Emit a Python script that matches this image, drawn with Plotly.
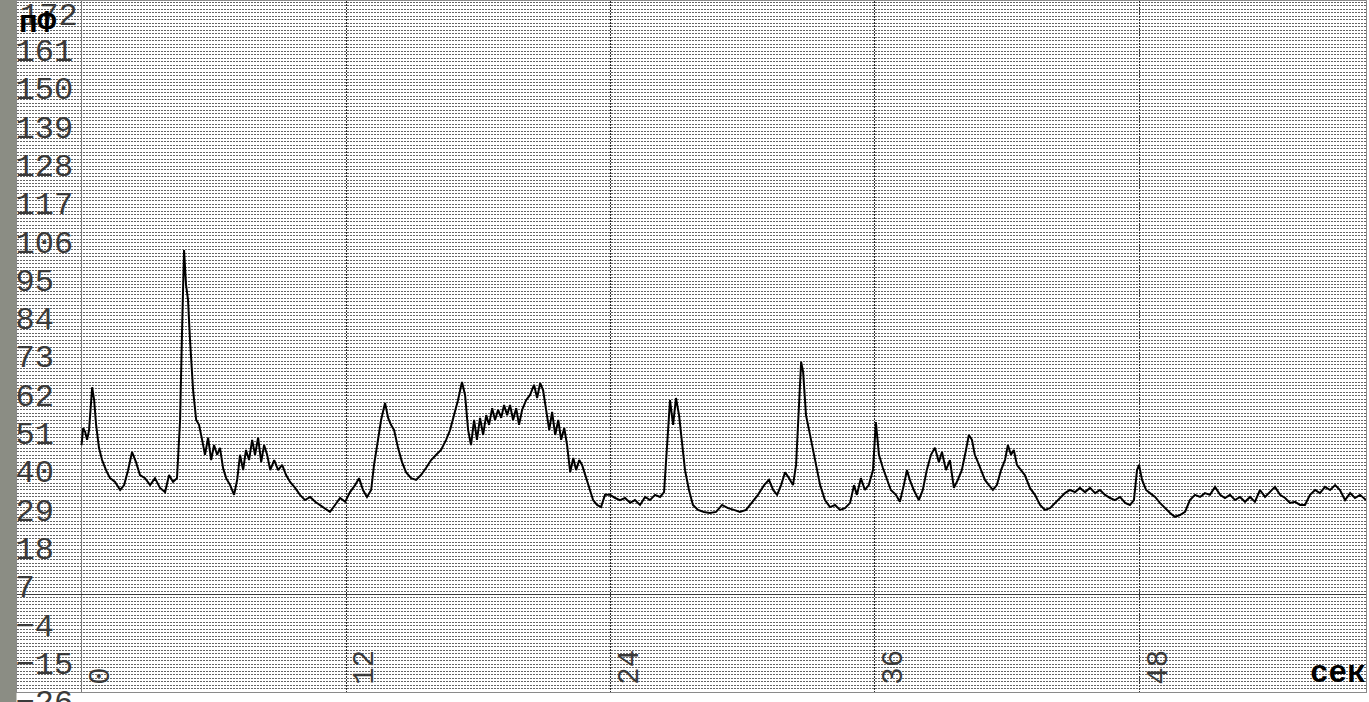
import plotly.graph_objects as go

# ---- data (time in seconds, capacitance in pF) ----
time_s = [
    0.00, 0.07, 0.16, 0.25, 0.34, 0.48, 0.57, 0.66, 0.79, 0.93, 1.11, 1.29, 1.52, 1.75, 1.93,
    2.11, 2.29, 2.47, 2.65, 2.88, 3.11, 3.33, 3.56, 3.79, 3.97, 4.15, 4.33, 4.47, 4.56, 4.65,
    4.74, 4.83, 4.92, 5.06, 5.20, 5.33, 5.47, 5.60, 5.74, 5.88, 6.01, 6.15, 6.28, 6.42, 6.56,
    6.74, 6.92, 7.06, 7.19, 7.33, 7.46, 7.60, 7.74, 7.87, 8.01, 8.15, 8.28, 8.42, 8.56, 8.74,
    8.92, 9.10, 9.28, 9.46, 9.69, 9.91, 10.14, 10.37, 10.60, 10.82, 11.05, 11.27, 11.50, 11.73, 11.96,
    12.18, 12.41, 12.59, 12.77, 12.95, 13.14, 13.27, 13.45, 13.59, 13.77, 13.91, 14.04, 14.18, 14.36, 14.54,
    14.72, 14.95, 15.18, 15.40, 15.63, 15.86, 16.09, 16.31, 16.54, 16.72, 16.90, 17.08, 17.26, 17.40, 17.54,
    17.67, 17.81, 17.94, 18.08, 18.22, 18.36, 18.49, 18.63, 18.76, 18.90, 19.04, 19.17, 19.31, 19.44, 19.58,
    19.72, 19.85, 19.99, 20.17, 20.35, 20.53, 20.67, 20.81, 20.94, 21.08, 21.22, 21.35, 21.49, 21.63, 21.76,
    21.90, 22.03, 22.17, 22.31, 22.44, 22.58, 22.71, 22.85, 23.03, 23.21, 23.39, 23.57, 23.75, 23.98, 24.21,
    24.43, 24.66, 24.89, 25.11, 25.34, 25.57, 25.79, 26.02, 26.25, 26.43, 26.57, 26.70, 26.84, 26.97, 27.11,
    27.25, 27.38, 27.56, 27.74, 27.97, 28.24, 28.51, 28.79, 29.06, 29.33, 29.60, 29.87, 30.15, 30.42, 30.69,
    30.97, 31.19, 31.38, 31.56, 31.74, 31.92, 32.10, 32.28, 32.42, 32.56, 32.65, 32.74, 32.87, 33.01, 33.15,
    33.33, 33.51, 33.73, 33.96, 34.19, 34.41, 34.64, 34.87, 35.05, 35.18, 35.36, 35.54, 35.72, 35.91, 36.04,
    36.18, 36.36, 36.54, 36.72, 36.95, 37.13, 37.31, 37.45, 37.58, 37.76, 37.99, 38.17, 38.35, 38.54, 38.72,
    38.90, 39.04, 39.22, 39.40, 39.58, 39.76, 39.94, 40.13, 40.26, 40.40, 40.53, 40.67, 40.81, 40.99, 41.17,
    41.35, 41.53, 41.72, 41.90, 42.03, 42.17, 42.30, 42.44, 42.62, 42.80, 43.03, 43.26, 43.49, 43.71, 43.94,
    44.17, 44.39, 44.62, 44.85, 45.08, 45.30, 45.53, 45.76, 45.99, 46.21, 46.44, 46.67, 46.89, 47.12, 47.35,
    47.57, 47.75, 47.89, 47.98, 48.12, 48.30, 48.48, 48.71, 48.93, 49.16, 49.39, 49.61, 49.84, 50.07, 50.29,
    50.52, 50.75, 50.97, 51.20, 51.43, 51.66, 51.88, 52.11, 52.34, 52.56, 52.79, 53.02, 53.24, 53.47, 53.70,
    53.93, 54.15, 54.38, 54.61, 54.83, 55.06, 55.29, 55.51, 55.74, 55.97, 56.19, 56.42, 56.65, 56.88, 57.10,
    57.33, 57.56, 57.78, 58.01, 58.28,
]
capacitance_pf = [
    42.9, 47.8, 46.7, 44.4, 47.2, 59.5, 55.8, 48.7, 42.1, 38.6, 35.7, 33.4, 32.3, 30.0, 31.4,
    35.7, 40.9, 38.0, 34.3, 33.4, 31.4, 33.4, 30.6, 29.4, 34.3, 32.3, 33.4, 50.1, 75.9, 98.9,
    88.9, 84.6, 73.1, 58.7, 50.1, 48.7, 44.4, 40.1, 45.0, 38.6, 42.9, 40.1, 42.1, 36.3, 33.4,
    31.4, 28.6, 32.9, 40.1, 35.7, 41.5, 38.6, 44.4, 40.1, 45.0, 38.0, 42.9, 40.1, 35.7, 38.6,
    35.7, 37.2, 34.3, 32.3, 30.6, 28.6, 27.1, 28.0, 26.6, 25.7, 24.8, 23.7, 25.7, 27.7, 26.6,
    29.4, 31.4, 33.4, 30.0, 28.0, 30.0, 37.2, 44.4, 50.1, 55.0, 50.7, 48.7, 47.2, 42.1, 38.0,
    35.1, 33.4, 32.9, 34.3, 36.3, 38.6, 40.1, 41.5, 44.4, 47.2, 51.5, 55.8, 61.0, 57.3, 47.2,
    42.9, 50.1, 44.4, 50.7, 45.8, 51.5, 48.7, 53.5, 50.1, 53.0, 50.7, 54.4, 51.5, 54.4, 50.1,
    53.5, 48.7, 53.0, 55.8, 57.3, 60.2, 56.4, 60.7, 58.7, 53.0, 47.2, 52.4, 45.8, 50.1, 44.4,
    47.8, 42.9, 35.1, 39.2, 35.7, 38.6, 37.2, 34.3, 30.6, 27.1, 25.7, 25.1, 28.6, 28.6, 27.7,
    27.1, 27.7, 26.3, 27.1, 25.7, 28.0, 27.1, 28.6, 28.0, 29.4, 44.4, 55.8, 48.7, 56.4, 51.5,
    42.9, 35.7, 30.0, 25.7, 24.3, 23.7, 23.4, 23.7, 25.7, 24.8, 24.3, 23.7, 24.3, 26.3, 28.6,
    31.4, 32.9, 30.0, 28.6, 31.4, 35.1, 33.4, 31.4, 37.2, 55.8, 66.8, 63.9, 51.5, 47.2, 42.9,
    37.2, 31.4, 27.1, 25.1, 25.7, 24.3, 24.8, 26.3, 31.4, 28.6, 33.4, 30.0, 31.4, 35.7, 49.5,
    40.1, 36.3, 32.9, 30.0, 28.6, 26.6, 31.4, 35.7, 32.9, 30.0, 27.1, 30.0, 35.7, 40.1, 42.1,
    38.0, 40.9, 35.7, 38.6, 30.6, 32.9, 35.7, 41.5, 45.8, 44.4, 40.1, 38.0, 35.7, 32.9, 31.4,
    30.0, 31.4, 35.7, 38.6, 42.9, 40.1, 41.5, 37.2, 35.7, 34.3, 30.6, 28.6, 25.7, 24.3, 24.8,
    26.3, 27.7, 29.1, 30.0, 29.4, 30.6, 29.4, 30.6, 29.1, 30.0, 28.6, 27.7, 27.1, 28.0, 26.3,
    25.7, 27.1, 35.7, 37.2, 32.9, 30.0, 29.1, 28.0, 26.3, 24.8, 23.4, 22.3, 22.8, 23.7, 27.1,
    28.6, 28.0, 29.1, 28.6, 30.9, 28.6, 27.7, 28.6, 27.1, 28.0, 26.6, 28.0, 26.6, 30.0, 28.0,
    29.4, 30.9, 28.6, 27.7, 26.3, 26.6, 25.7, 25.7, 28.6, 30.0, 29.1, 30.9, 30.0, 31.4, 30.0,
    27.1, 29.1, 27.7, 28.6, 27.1,
]

y_tick_vals = [172, 161, 150, 139, 128, 117, 106, 95, 84, 73, 62, 51, 40, 29, 18, 7, -4, -15, -26]
x_tick_vals = [0, 12, 24, 36, 48]
y_unit = "пФ"
x_unit = "сек"

# ---- layout / style ----
W, H = 1369, 702
ML, MR, MT, MB = 17, 3, 1, 10
X_RANGE = [-2.93, 58.28]
Y_RANGE = [-28.0, 170.4]
FONT_FAMILY = "Courier New, Liberation Mono, monospace"
Y_LABEL_FONT = dict(family=FONT_FAMILY, size=32, color="#3a3a3a")
X_LABEL_FONT = dict(family=FONT_FAMILY, size=29, color="#3a3a3a")
UNIT_FONT = dict(family=FONT_FAMILY, size=31, color="#000000")
GRID_DASH = "2px,1px"
MINOR_GRID = "#646464"

fig = go.Figure()
fig.add_trace(go.Scatter(
    x=time_s, y=capacitance_pf, mode="lines",
    line=dict(color="#000000", width=2), hoverinfo="skip", showlegend=False,
))

in_range_ticks = [v for v in y_tick_vals if Y_RANGE[0] <= v <= Y_RANGE[1]]
above_range_ticks = [v for v in y_tick_vals if v > Y_RANGE[1]]

fig.update_layout(
    width=W, height=H,
    margin=dict(l=ML, r=MR, t=MT, b=MB, pad=0, autoexpand=False),
    paper_bgcolor="#ffffff", plot_bgcolor="#ffffff",
    showlegend=False,
    xaxis=dict(
        range=X_RANGE, tickmode="array", tickvals=x_tick_vals,
        ticktext=[str(v) for v in x_tick_vals], automargin=False,
        tickangle=-90, ticklabelposition="inside", ticklabelshift=18,
        ticks="", tickfont=X_LABEL_FONT, ticklabeloverflow="allow",
        showgrid=True, gridcolor="#2e2e2e", griddash=GRID_DASH, gridwidth=1,
        zeroline=True, zerolinecolor="#7a7a7a", zerolinewidth=1,
        showline=True, mirror=True, linecolor="#8a8a8a", linewidth=1,
        fixedrange=True,
    ),
    yaxis=dict(
        range=Y_RANGE, tickmode="array", tickvals=in_range_ticks,
        ticktext=[str(v).replace("-", "\u2212") for v in in_range_ticks],
        automargin=False,
        ticklabelposition="inside", ticklabelshift=16, ticklabelstandoff=2, ticks="",
        tickfont=Y_LABEL_FONT, ticklabeloverflow="allow",
        showgrid=True, gridcolor=MINOR_GRID, griddash=GRID_DASH, gridwidth=1,
        minor=dict(tick0=0, dtick=1, showgrid=True, gridcolor=MINOR_GRID,
                   griddash=GRID_DASH, gridwidth=1, ticks=""),
        zeroline=True, zerolinecolor="#3c3c3c", zerolinewidth=1,
        showline=True, mirror=True, linecolor="#8a8a8a", linewidth=1,
        fixedrange=True,
    ),
    shapes=[dict(
        type="rect", xref="paper", yref="paper", layer="below",
        x0=-ML / (W - ML - MR), x1=-0.5 / (W - ML - MR), y0=-0.05, y1=1.05,
        fillcolor="#8b8d84", line=dict(width=0),
    )],
)

annotations = []
for v in above_range_ticks:
    annotations.append(dict(
        text=str(v), xref="paper", yref="paper", x=0, y=1,
        xanchor="left", yanchor="top", xshift=1, yshift=5,
        showarrow=False, font=Y_LABEL_FONT,
    ))
annotations.append(dict(
    text="<b>" + y_unit + "</b>", xref="paper", yref="paper", x=0, y=1,
    xanchor="left", yanchor="top", xshift=0, yshift=-3,
    showarrow=False, font=UNIT_FONT,
))
annotations.append(dict(
    text="<b>" + x_unit + "</b>", xref="paper", yref="paper", x=1, y=0,
    xanchor="right", yanchor="bottom", xshift=2, yshift=-1,
    showarrow=False, font=UNIT_FONT,
))
fig.update_layout(annotations=annotations)

fig.write_html(
    "out.html",
    config={"displayModeBar": False, "staticPlot": True},
    post_script="document.body.style.margin='0';document.body.style.overflow='hidden';",
)
